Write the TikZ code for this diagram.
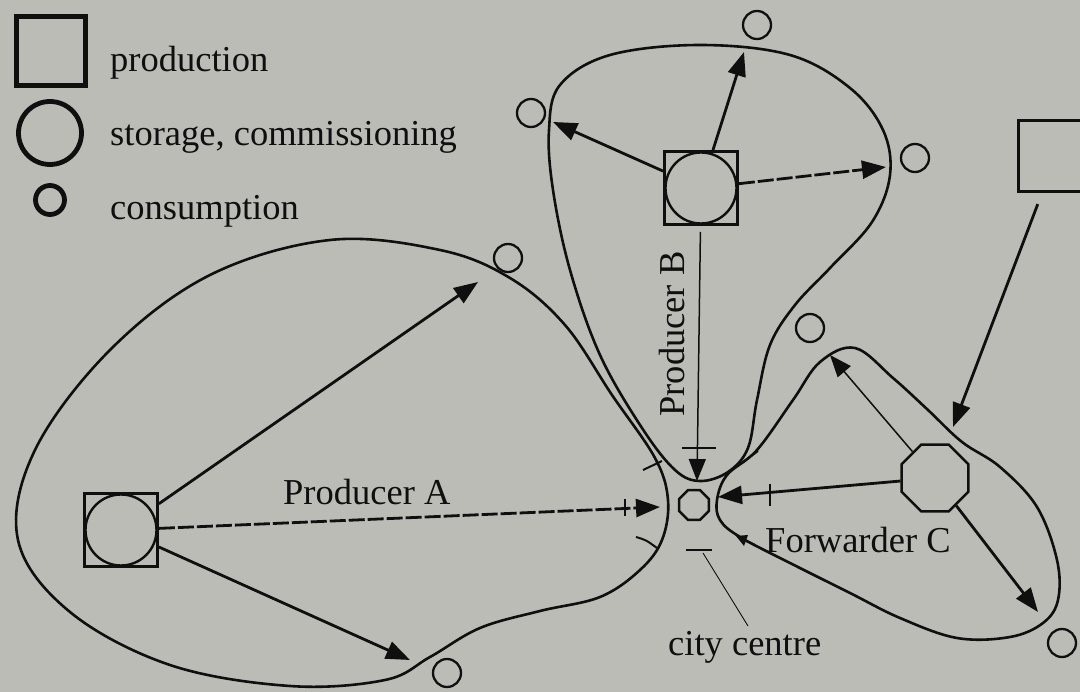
\documentclass[tikz,border=0pt]{standalone}
\usepackage{fontspec}
\setmainfont{Liberation Serif}
\usetikzlibrary{arrows.meta,shapes.geometric}
\definecolor{bg}{RGB}{188,188,183}
\definecolor{ink}{RGB}{15,15,15}
\begin{document}
\begin{tikzpicture}[x=1pt,y=-1pt,
  lg/.style={draw=ink, line width=4.8pt, inner sep=0pt},
  loopline/.style={draw=ink, line width=2.6pt, line join=round},
  arr/.style={draw=ink, line width=2.8pt, -{Triangle[length=24pt,width=18pt]}},
  thinarr/.style={draw=ink, line width=1.5pt, -{Triangle[length=22pt,width=17pt]}},
  dasharr/.style={arr, dash pattern=on 16pt off 3pt},
  sat/.style={circle, draw=ink, line width=2.3pt, minimum size=28pt, inner sep=0pt},
  octo/.style={regular polygon, regular polygon sides=8, draw=ink, line width=2.5pt, inner sep=0pt},
  prod/.style={rectangle, draw=ink, line width=2.8pt, minimum size=73pt, inner sep=0pt},
  stor/.style={circle, draw=ink, line width=2.4pt, minimum size=71pt, inner sep=0pt},
  lbl/.style={font=\fontsize{36.5}{40}\selectfont, text=ink, inner sep=0pt},
  tick/.style={draw=ink, line width=2pt}]
\fill[bg] (0,0) rectangle (1080,692);
\useasboundingbox (0,0) rectangle (1080,692);

% legend
\node[lg, rectangle, minimum size=69pt] (legP) at (51,51) {};
\node[lg, circle, minimum size=63pt] (legS) at (50,133) {};
\node[lg, circle, minimum size=29pt] (legC) at (50,200) {};
\node[lbl, anchor=base west] (tP) at (110,72) {production};
\node[lbl, anchor=base west] (tS) at (110,146) {storage, commissioning};
\node[lbl, anchor=base west] (tC) at (110,220) {consumption};

% loops
\draw[loopline] plot[smooth cycle, tension=0.6] coordinates {
 (330,240) (440,250) (510,278) (565,325) (612,395) (655,458) (668,500) (662,540)
 (640,570) (600,597) (540,611) (480,628) (430,657) (385,680) (290,686) (170,665)
 (70,612) (18,540) (35,450) (110,350) (210,275)};
\draw[loopline] plot[smooth cycle, tension=0.6] coordinates {
 (700,45) (790,55) (850,88) (883,130) (890,175) (872,222) (830,268) (795,305)
 (770,345) (757,400) (748,448) (728,472) (700,481) (675,470) (642,428) (600,355)
 (570,270) (553,190) (549,130) (560,85) (610,55)};
\draw[loopline] plot[smooth cycle, tension=0.6] coordinates {
 (717,500) (727,475) (757,450) (793,400) (820,362) (855,348) (893,378) (928,410)
 (962,442) (1000,467) (1037,507) (1057,560) (1058,600) (1043,623) (1010,637)
 (957,638) (900,618) (850,593) (790,563) (740,537) (720,520)};

% producers
\node[prod] (A) at (121,530) {};
\node[stor] (Ac) at (A.center) {};
\node[prod] (B) at (701,188) {};
\node[stor] (Bc) at (B.center) {};
\node[prod, minimum width=75pt, minimum height=71pt] (P2) at (1056,156) {};
\node[octo, minimum size=72pt] (C) at (935,478) {};
\node[octo, minimum size=32pt] (cc) at (694,505) {};

% consumption points
\node[sat] (sBt) at (757,25) {};
\node[sat] (sBl) at (531,113) {};
\node[sat] (sBr) at (915,158) {};
\node[sat] (sAt) at (508,258) {};
\node[sat] (sAb) at (447,673) {};
\node[sat] (sCt) at (810,328) {};
\node[sat] (sCb) at (1062,643) {};

% arrow tips
\coordinate (tBt) at (744,52);
\coordinate (tBl) at (553,122);
\coordinate (tBr) at (886,167);
\coordinate (tAt) at (478,282);
\coordinate (tAm) at (660,507);
\coordinate (tAb) at (410,660);
\coordinate (tBd) at (697,481);
\coordinate (tCm) at (718,497);
\coordinate (tCt) at (830,355);
\coordinate (tCb) at (1038,612);
\coordinate (tP2) at (953,427);

\draw[arr] (B) -- (tBt);
\draw[arr] (B) -- (tBl);
\draw[dasharr] (B) -- (tBr);
\draw[arr] (A) -- (tAt);
\draw[dasharr] (A) -- (tAm);
\draw[arr] (A) -- (tAb);
\draw[thinarr, shorten <=6pt] (B) -- (tBd);
\draw[arr] (C) -- (tCm);
\draw[thinarr] (C) -- (tCt);
\draw[arr] (C) -- (tCb);
\draw[arr, shorten <=12pt] (P2) -- (tP2);

% ticks
\draw[tick] (625,499) -- (625,516);
\draw[tick] (682,448) -- (716,448);
\draw[tick] (770,484) -- (770,506);
\draw[tick] (643,470) -- (662,461);
\draw[tick] (743,462) -- (758,451);
\draw[tick] (636,537) .. controls (646,540) .. (657,548);
\draw[tick] (755,545) -- (740,538);
\fill[ink] (736,536) -- (748,535) -- (744,546) -- cycle;

% labels
\node[lbl, anchor=base west] (lA) at (283,505) {Producer A};
\node[lbl, rotate=90] (lB) at (672,334) {Producer B};
\node[lbl, anchor=base west] (lC) at (765,553) {Forwarder C};
\node[lbl, anchor=base west] (lcc) at (668,655) {city centre};
\coordinate (ccd) at (703,553);
\coordinate (ccl) at (748,626);
\draw[tick] (686,550) -- (712,550);
\draw[draw=ink, line width=0.9pt] (ccd) -- (ccl);
\end{tikzpicture}
\end{document}
